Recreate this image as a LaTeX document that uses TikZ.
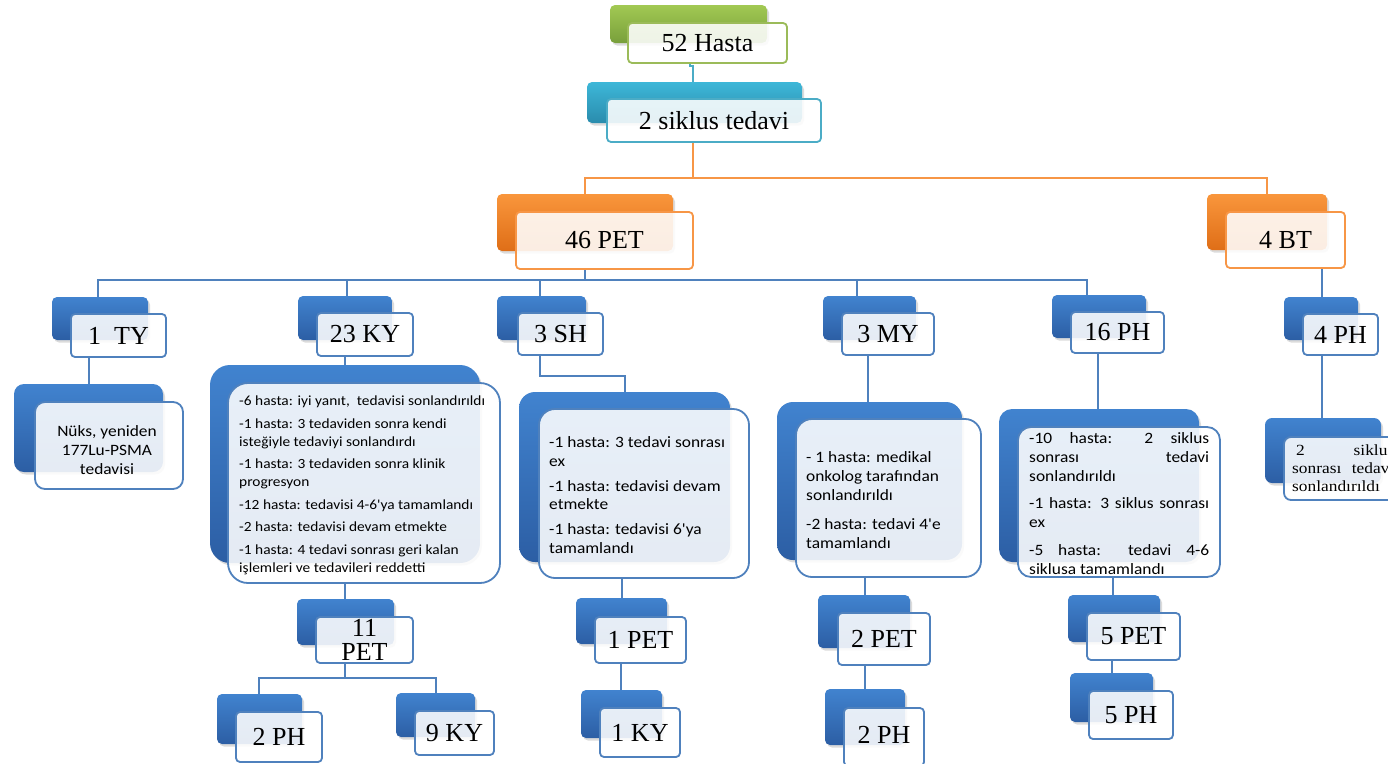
\documentclass[tikz,border=0pt]{standalone}
\usepackage{fontspec}
\setmainfont{Liberation Serif}
\newfontfamily\carl[FakeStretch=1.1]{Carlito}
\newfontfamily\serifw[FakeStretch=1.12]{Liberation Serif}
\usetikzlibrary{fit,shadows}
\pgfdeclarelayer{bg}
\pgfsetlayers{bg,main}
\definecolor{bA}{HTML}{4183CF}
\definecolor{bB}{HTML}{2C5EA4}
\definecolor{bL}{HTML}{4F81BD}
\definecolor{gA}{HTML}{A2C953}
\definecolor{gB}{HTML}{789F3B}
\definecolor{gL}{HTML}{9BBB59}
\definecolor{cA}{HTML}{3DB7D8}
\definecolor{cB}{HTML}{2A8CAD}
\definecolor{cL}{HTML}{4BACC6}
\definecolor{oA}{HTML}{F9963C}
\definecolor{oB}{HTML}{DF6E17}
\definecolor{oL}{HTML}{F79646}
\begin{document}
\begin{tikzpicture}[x=1pt,y=-1pt,
  conn/.style={draw=#1, line width=1.7pt},
  backrect/.style 2 args={top color=#1, bottom color=#2, rounded corners=5pt,
     drop shadow={opacity=0.28, shadow xshift=2pt, shadow yshift=-2.5pt}},
  frontrect/.style={draw=#1, line width=1.8pt, fill=white, fill opacity=0.88,
     rounded corners=4pt, inner sep=0pt},
  lbl/.style={font=\fontsize{26}{23}\selectfont, inner sep=0pt, align=center},
  note/.style={font=\carl\fontsize{15.8}{18.5}\selectfont, align=left, inner sep=0pt, anchor=base west}
]
\useasboundingbox (0,0) rectangle (1388,763);

% ---------- top ----------
\path[backrect={gA}{gB}] (610,5) rectangle (767,43);
\node[frontrect=gL, fit={(628,23)(787,63)}] (hastaF) {};
\node[lbl] (hasta) at (hastaF) {52 Hasta};

\path[backrect={cA}{cB}] (587,82) rectangle (802,123);
\node[frontrect=cL, fit={(607,99)(821,142)}] (sikF) {};
\node[lbl] (sik) at (sikF) {2 siklus tedavi};

\path[backrect={oA}{oB}] (497,194) rectangle (673,251);
\node[frontrect=oL, fit={(516,212)(693,269)}] (petF) {};
\node[lbl] (pet) at (petF) {46 PET};

\path[backrect={oA}{oB}] (1207,194) rectangle (1327,250);
\node[frontrect=oL, fit={(1226,212)(1345,268)}] (btF) {};
\node[lbl] (bt) at (btF) {4 BT};

% ---------- second row ----------
\path[backrect={bA}{bB}] (52,297) rectangle (148,340);
\node[frontrect=bL, fit={(71,314)(166,357)}] (tyF) {};
\node[lbl] (ty) at (tyF) {1~ TY};

\path[backrect={bA}{bB}] (298,296) rectangle (392,340);
\node[frontrect=bL, fit={(317,313)(413,356)}] (kyF) {};
\node[lbl] (ky) at (kyF) {23 KY};

\path[backrect={bA}{bB}] (497,296) rectangle (586,340);
\node[frontrect=bL, fit={(518,313)(603,355)}] (shF) {};
\node[lbl] (sh) at (shF) {3 SH};

\path[backrect={bA}{bB}] (823,296) rectangle (916,340);
\node[frontrect=bL, fit={(842,313)(934,355)}] (myF) {};
\node[lbl] (my) at (myF) {3 MY};

\path[backrect={bA}{bB}] (1052,295) rectangle (1146,338);
\node[frontrect=bL, fit={(1071,312)(1164,353)}] (phF) {};
\node[lbl] (ph) at (phF) {16 PH};

\path[backrect={bA}{bB}] (1284,297) rectangle (1358,340);
\node[frontrect=bL, fit={(1303,314)(1378,355)}] (ph4F) {};
\node[lbl] (ph4) at (ph4F) {4 PH};

% ---------- note boxes ----------
\path[backrect={bA}{bB}, rounded corners=10pt] (14,384) rectangle (163,472);
\node[frontrect=bL, rounded corners=10pt, fit={(35,402)(183,489)}] (tyN) {};
\node[font=\carl\fontsize{15.8}{19}\selectfont, align=center, inner sep=0pt, anchor=base] (tyT) at (107,474) {Nüks, yeniden\\177Lu-PSMA\\tedavisi};

\path[backrect={bA}{bB}, rounded corners=20pt] (210,365) rectangle (480,563);
\node[frontrect=bL, rounded corners=20pt, fit={(228,383)(500,583)}] (kyN) {};
\node[note, font=\carl\fontsize{14}{18}\selectfont] (kyT) at (239,572) {-6 hasta: iyi yanıt,\ \ tedavisi sonlandırıldı\\[4.5pt]
-1 hasta: 3 tedaviden sonra kendi\\
isteğiyle tedaviyi sonlandırdı\\[4.5pt]
-1 hasta: 3 tedaviden sonra klinik\\
progresyon\\[4.5pt]
-12 hasta: tedavisi 4-6'ya tamamlandı\\[4.5pt]
-2 hasta: tedavisi devam etmekte\\[4.5pt]
-1 hasta: 4 tedavi sonrası geri kalan\\
işlemleri ve tedavileri reddetti};

\path[backrect={bA}{bB}, rounded corners=16pt] (519,392) rectangle (730,562);
\node[frontrect=bL, rounded corners=16pt, fit={(539,409)(749,578)}] (shN) {};
\node[note] (shT) at (549,553) {-1 hasta: 3 tedavi sonrası\\
ex\\[6.5pt]
-1 hasta: tedavisi devam\\
etmekte\\[6.5pt]
-1 hasta: tedavisi 6'ya\\
tamamlandı};

\path[backrect={bA}{bB}, rounded corners=16pt] (777,402) rectangle (962,560);
\node[frontrect=bL, rounded corners=16pt, fit={(796,419)(981,577)}] (myN) {};
\node[note, font=\carl\fontsize{15.8}{19}\selectfont] (myT) at (806,548) {- 1 hasta: medikal\\
onkolog tarafından\\
sonlandırıldı\\[10pt]
-2 hasta: tedavi 4'e\\
tamamlandı};

\path[backrect={bA}{bB}, rounded corners=13pt] (999,409) rectangle (1199,562);
\node[frontrect=bL, rounded corners=13pt, fit={(1018,427)(1220,577)}] (phN) {};
\node[note, font=\carl\fontsize{15.8}{19}\selectfont] (phT) at (1029,574) {\makebox[180pt][s]{-10 hasta: 2 siklus}\\
\makebox[180pt][s]{sonrası tedavi}\\
sonlandırıldı\\[8.5pt]
\makebox[180pt][s]{-1 hasta: 3 siklus sonrası}\\
ex\\[8.5pt]
\makebox[180pt][s]{-5 hasta: tedavi 4-6}\\
siklusa tamamlandı};

\path[backrect={bA}{bB}, rounded corners=7pt] (1265,418) rectangle (1381,483);
\node[frontrect=bL, rounded corners=7pt, fit={(1284,437)(1400,500)}] (ph4N) {};
\node[note, font=\serifw\fontsize{15.5}{18}\selectfont] (ph4T) at (1292,491) {\makebox[102pt][s]{\hspace{4pt}2 siklus}\\
\makebox[102pt][s]{sonrası tedavi}\\
sonlandırıldı};

% ---------- bottom ----------
\path[backrect={bA}{bB}] (297,599) rectangle (394,645);
\node[frontrect=bL, fit={(316,617)(413,663)}] (pet11F) {};
\node[lbl, font=\fontsize{26}{24}\selectfont] (pet11) at (pet11F) {11\\PET};

\path[backrect={bA}{bB}] (217,694) rectangle (302,744);
\node[frontrect=bL, fit={(236,712)(322,762)}] (ph2F) {};
\node[lbl] (ph2) at (ph2F) {2 PH};

\path[backrect={bA}{bB}] (396,693) rectangle (475,737);
\node[frontrect=bL, fit={(415,711)(494,755)}] (ky9F) {};
\node[lbl] (ky9) at (ky9F) {9 KY};

\path[backrect={bA}{bB}] (576,598) rectangle (667,644);
\node[frontrect=bL, fit={(595,617)(686,663)}] (pet1F) {};
\node[lbl] (pet1) at (pet1F) {1 PET};

\path[backrect={bA}{bB}] (581,690) rectangle (662,738);
\node[frontrect=bL, fit={(600,708)(680,757)}] (ky1F) {};
\node[lbl] (ky1) at (ky1F) {1 KY};

\path[backrect={bA}{bB}] (818,595) rectangle (910,648);
\node[frontrect=bL, fit={(838,613)(930,665)}] (pet2F) {};
\node[lbl] (pet2) at (pet2F) {2 PET};

\path[backrect={bA}{bB}] (825,689) rectangle (905,745);
\node[frontrect=bL, fit={(844,708)(924,766)}] (ph2bF) {};
\node[lbl] (ph2b) at (884,735) {2 PH};

\path[backrect={bA}{bB}] (1068,595) rectangle (1160,642);
\node[frontrect=bL, fit={(1087,613)(1180,660)}] (pet5F) {};
\node[lbl] (pet5) at (pet5F) {5 PET};

\path[backrect={bA}{bB}] (1070,673) rectangle (1153,722);
\node[frontrect=bL, fit={(1089,691)(1173,739)}] (ph5F) {};
\node[lbl] (ph5) at (ph5F) {5 PH};

% ---------- connectors (behind) ----------
\begin{pgfonlayer}{bg}
\fill[white] (0,0) rectangle (1388,763);
\draw[conn=cL] (hastaF.south -| 690,0) -- (690,66) -- (693,66) -- (sikF.north -| 693,0);
\draw[conn=oL] (sikF.south -| 693,0) -- (693,178);
\draw[conn=oL] (petF.north -| 585,0) -- (585,178) -- (1267,178) -- (btF.north -| 1267,0);
\draw[conn=bL] (petF.south -| 585,0) -- (585,280);
\draw[conn=bL] (tyF.north -| 98,0) -- (98,280) -- (1087,280) -- (phF.north -| 1087,0);
\draw[conn=bL] (347,280) -- (kyF.north -| 347,0);
\draw[conn=bL] (540,280) -- (shF.north -| 540,0);
\draw[conn=bL] (857,280) -- (myF.north -| 857,0);
\draw[conn=bL] (btF.south -| 1322,0) -- (ph4F.north -| 1322,0);
\draw[conn=bL] (tyF.south -| 89,0) -- (tyN.north -| 89,0);
\draw[conn=bL] (kyF.south -| 345,0) -- (kyN.north -| 345,0);
\draw[conn=bL] (shF.south -| 540,0) -- (540,376) -- (625,376) -- (shN.north -| 625,0);
\draw[conn=bL] (myF.south -| 868,0) -- (myN.north -| 868,0);
\draw[conn=bL] (phF.south -| 1098,0) -- (phN.north -| 1098,0);
\draw[conn=bL] (ph4F.south -| 1322,0) -- (ph4N.north -| 1322,0);
\draw[conn=bL] (kyN.south -| 345,0) -- (pet11F.north -| 345,0);
\draw[conn=bL] (pet11F.south -| 345,0) -- (345,678);
\draw[conn=bL] (ph2F.north -| 259,0) -- (259,678) -- (436,678) -- (ky9F.north -| 436,0);
\draw[conn=bL] (shN.south -| 622,0) -- (pet1F.north -| 622,0);
\draw[conn=bL] (pet1F.south -| 621,0) -- (ky1F.north -| 621,0);
\draw[conn=bL] (myN.south -| 865,0) -- (pet2F.north -| 865,0);
\draw[conn=bL] (pet2F.south -| 865,0) -- (ph2bF.north -| 865,0);
\draw[conn=bL] (phN.south -| 1113,0) -- (pet5F.north -| 1113,0);
\draw[conn=bL] (pet5F.south -| 1112,0) -- (ph5F.north -| 1112,0);
\end{pgfonlayer}
\end{tikzpicture}
\end{document}
